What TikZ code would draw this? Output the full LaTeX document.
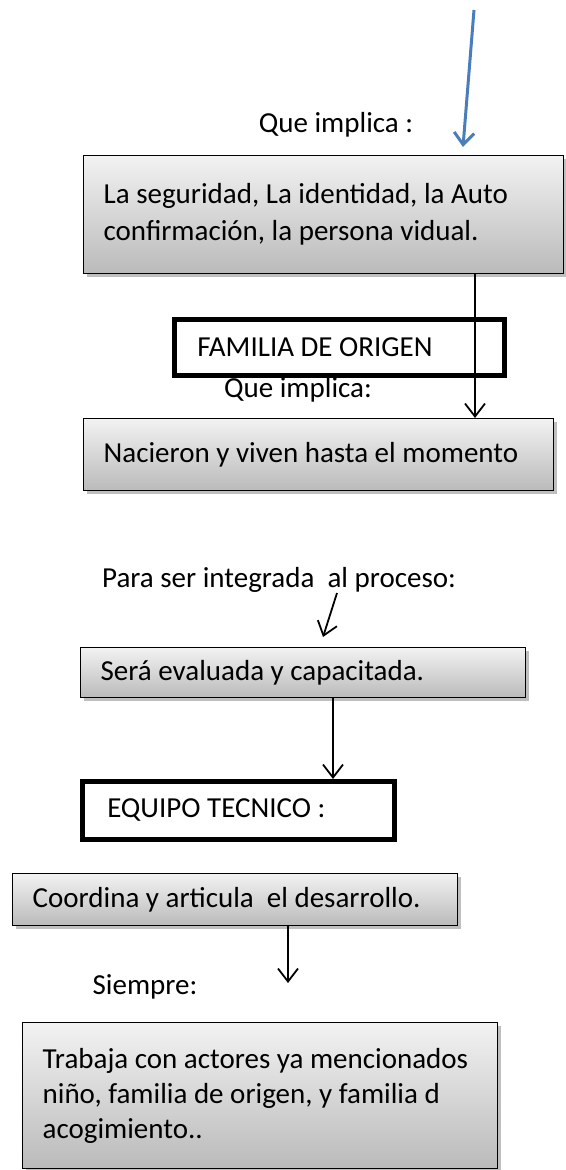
\documentclass[tikz,border=0pt]{standalone}
\usepackage{fontspec}
\setmainfont{Carlito}
\usetikzlibrary{arrows.meta,shadows}
\definecolor{azul}{HTML}{4A7EBB}

\begin{document}
\begin{tikzpicture}[x=1pt, y=-1pt,
        every node/.style={font=\fontsize{29}{37}\selectfont},
        caja/.style={draw, line width=1.3pt, top color=black!5, bottom color=black!27,
            drop shadow={shadow xshift=3pt, shadow yshift=-3pt, fill=black!50, opacity=.5},
            inner xsep=20pt, inner ysep=0pt, align=flush left, anchor=north west},
        marco/.style={draw, line width=4.5pt, fill=white, inner xsep=23pt, inner ysep=0pt,
            align=flush left, anchor=north west},
        flecha/.style={line width=1.8pt, -{Straight Barb[length=13pt, width=20pt]}},
        flechaazul/.style={draw=azul, line width=3pt, -{Straight Barb[length=12pt, width=20pt]}}]
    \useasboundingbox (0,0) rectangle (565,1170);

    % parte de arriba
    \coordinate (azulini) at (474,10);
    \coordinate (azulfin) at (463,147);
    \draw[flechaazul] (azulini) -- (azulfin);
    \node (implica1) at (336,125) {Que implica :};
    \node[caja, text width=440pt, minimum height=118pt] (segur) at (83,155)
        {La seguridad, La identidad, la Auto\\confirmación, la persona vidual.\par\vspace{16pt}};
    \node[marco, text width=284pt, minimum height=56pt] (familia) at (172,317) {FAMILIA DE ORIGEN};
    \node (implica2) at (298,390) {Que implica:};
    \node[caja, text width=430pt, minimum height=72pt] (nacer) at (83,418) {Nacieron y viven hasta el momento};

    \coordinate (eje1) at (475,0);
    \draw[flecha] (segur.south -| eje1) -- (nacer.north -| eje1);

    % parte del medio
    \node (proceso) at (279,580) {Para ser integrada~ al proceso:};
    \node[caja, text width=405pt, minimum height=50pt] (sera) at (80,647) {Será evaluada y capacitada.};
    \node[marco, inner xsep=25pt, text width=262pt, minimum height=58pt] (equipo) at (80,779) {EQUIPO TECNICO :};

    \coordinate (ini2) at (337,593);
    \coordinate (fin2) at (323,637);
    \draw[flecha] (ini2) -- (fin2);
    \coordinate (eje3) at (333,0);
    \draw[flecha] (sera.south -| eje3) -- (equipo.north -| eje3);

    % parte de abajo
    \node[caja, text width=405pt, minimum height=52pt] (coordina) at (12,873) {Coordina y articula~ el desarrollo.};
    \node (siempre) at (145,987) {Siempre:};
    \node[caja, text width=435pt, minimum height=146pt, font=\fontsize{29}{35}\selectfont] (trabaja) at (22,1022)
        {Trabaja con actores ya mencionados\\niño, familia de origen, y familia d\\acogimiento..\par\vspace{8pt}};

    \coordinate (eje4) at (288,0);
    \coordinate (fin4) at (288,983);
    \draw[flecha] (coordina.south -| eje4) -- (fin4);
\end{tikzpicture}
\end{document}
